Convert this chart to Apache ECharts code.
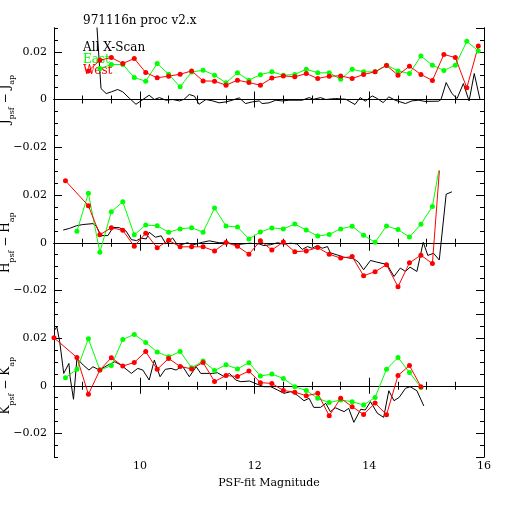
<!DOCTYPE html>
<html>
<head>
<meta charset="utf-8">
<script src="https://cdn.jsdelivr.net/npm/echarts@6/dist/echarts.min.js"></script>
<style>
html, body { margin:0; padding:0; background:#fff; }
#chart { width:512px; height:512px; }
</style>
</head>
<body>
<div id="chart"></div>
<script type="text/javascript">
// ---- data (magnitude, residual) ----
var titleText = '971116n proc v2.x';
var legendNames = ['All X-Scan', 'East', 'West'];
var xTickLabels = [10, 12, 14, 16];

// J panel
var jMag  = [9.1,9.3,9.5,9.7,9.9,10.1,10.3,10.5,10.7,10.9,11.1,11.3,11.5,11.7,11.9,12.1,12.3,12.5,12.7,12.9,13.1,13.3,13.5,13.7,13.9,14.1,14.3,14.5,14.7,14.9,15.1,15.3,15.5,15.7,15.9];
var jEast = [null,0.0130,0.0147,0.0147,0.0092,0.0077,0.0151,0.0106,0.0053,0.0115,0.0123,0.0102,0.0070,0.0112,0.0081,0.0104,0.0116,0.0102,0.0105,0.0127,0.0112,0.0112,0.0085,0.0127,0.0116,0.0116,0.0144,0.0120,0.0109,0.0182,0.0144,0.0122,0.0144,0.0244,0.0204];
var jWest = [0.0120,0.0165,0.0176,0.0151,0.0172,0.0113,0.0091,0.0098,0.0106,0.0120,0.0078,0.0077,0.0060,0.0081,0.0071,0.0060,0.0090,0.0099,0.0095,0.0109,0.0088,0.0098,0.0099,0.0088,0.0105,0.0116,0.0143,0.0102,0.0140,0.0105,0.0080,0.0189,0.0176,0.0049,0.0224];
var jAllMag = [9.22,9.32,9.41,9.50,9.61,9.70,9.82,9.93,10.05,10.16,10.25,10.34,10.45,10.57,10.69,10.77,10.86,10.95,11.03,11.15,11.27,11.38,11.50,11.61,11.73,11.84,11.96,12.08,12.13,12.25,12.37,12.48,12.60,12.83,12.95,13.03,13.15,13.24,13.41,13.59,13.75,13.84,13.93,14.05,14.14,14.24,14.34,14.45,14.63,14.74,14.86,14.97,15.21,15.25,15.34,15.44,15.53,15.64,15.74,15.83,15.93];
var jAll    = [0.041,0.0046,0.0025,0.0032,0.0042,0.0032,0.0004,-0.0020,0.0000,0.0018,0.0000,0.0008,-0.0003,0.0000,-0.0006,0.0001,0.0021,0.0014,-0.0020,0.0000,-0.0006,-0.0014,-0.0010,-0.0003,0.0007,-0.0017,-0.0010,-0.0006,-0.0017,-0.0014,-0.0003,-0.0006,-0.0003,-0.0003,0.0008,0.0001,0.0008,0.0000,0.0004,0.0001,-0.0021,0.0008,-0.0007,0.0015,0.0004,-0.0013,0.0011,-0.0003,-0.0017,-0.0006,-0.0003,-0.0008,-0.0007,0.0000,0.0071,0.0025,0.0004,0.0067,-0.0006,0.0109,0.0000];

// H panel
var hMag  = [8.7,8.9,9.1,9.3,9.5,9.7,9.9,10.1,10.3,10.5,10.7,10.9,11.1,11.3,11.5,11.7,11.9,12.1,12.3,12.5,12.7,12.9,13.1,13.3,13.5,13.7,13.9,14.1,14.3,14.5,14.7,14.9,15.1,15.3];
var hEast = [null,0.0048,0.0207,-0.0040,0.0130,0.0171,0.0033,0.0074,0.0071,0.0044,0.0058,0.0063,0.0044,0.0145,0.0070,0.0066,0.0016,0.0045,0.0062,0.0058,0.0078,0.0053,0.0028,0.0035,0.0058,0.0069,0.0031,0.0002,0.0070,0.0055,0.0024,0.0077,0.0152,0.042];
var hWest = [0.0259,null,0.0155,0.0033,0.0063,0.0052,-0.0015,0.0040,-0.0021,0.0010,-0.0017,-0.0017,-0.0017,-0.0034,0.0001,-0.0015,-0.0048,0.0008,-0.0030,0.0003,-0.0038,-0.0034,-0.0020,-0.0048,-0.0064,-0.0058,-0.0138,-0.0121,-0.0092,-0.0184,-0.0084,-0.0052,-0.0087,0.055];
var hAllMag = [8.66,8.77,8.89,9.00,9.18,9.24,9.32,9.44,9.53,9.64,9.76,9.85,9.94,10.02,10.11,10.16,10.27,10.37,10.45,10.57,10.66,10.83,10.92,11.09,11.21,11.38,11.53,11.68,11.91,12.08,12.16,12.28,12.40,12.51,12.63,12.74,12.83,12.92,13.00,13.09,13.18,13.27,13.32,13.44,13.55,13.73,13.81,13.90,14.02,14.13,14.31,14.43,14.54,14.63,14.71,14.83,14.94,15.02,15.12,15.22,15.34,15.44];
var hAll    = [0.0053,0.0060,0.0071,0.0076,0.0080,0.0069,0.0030,0.0030,0.0064,0.0063,0.0048,0.0013,0.0009,0.0019,0.0016,0.0044,0.0023,0.0029,-0.0005,0.0020,-0.0012,0.0000,-0.0009,0.0002,0.0008,0.0000,0.0000,-0.0008,-0.0002,-0.0005,-0.0012,-0.0008,0.0000,-0.0006,-0.0002,-0.0005,-0.0028,-0.0016,-0.0023,-0.0012,-0.0023,-0.0016,-0.0042,-0.0051,-0.0060,-0.0067,-0.0081,-0.0113,-0.0074,-0.0081,-0.0091,-0.0141,-0.0106,-0.0120,-0.0102,-0.0120,0.0002,-0.0053,-0.0044,-0.0072,0.0203,0.0213];

// K panel
var kMag  = [8.5,8.7,8.9,9.1,9.3,9.5,9.7,9.9,10.1,10.3,10.5,10.7,10.9,11.1,11.3,11.5,11.7,11.9,12.1,12.3,12.5,12.7,12.9,13.1,13.3,13.5,13.7,13.9,14.1,14.3,14.5,14.7,14.9];
var kEast = [null,0.0034,0.0069,0.0198,0.0066,0.0085,0.0195,0.0216,0.0182,0.0142,0.0122,0.0144,0.0076,0.0104,0.0064,0.0088,0.0071,0.0097,0.0041,0.0049,0.0031,-0.0004,-0.0020,-0.0053,-0.0071,-0.0060,-0.0067,-0.0081,-0.0049,0.0070,0.0119,0.0056,-0.0007];
var kWest = [0.0202,null,0.0119,-0.0036,0.0066,0.0118,0.0083,0.0098,0.0144,0.0069,0.0115,0.0081,0.0071,0.0098,0.0018,0.0043,0.0039,0.0062,0.0013,0.0010,-0.0020,-0.0027,-0.0042,-0.0032,-0.0126,-0.0053,-0.0088,-0.0121,-0.0073,-0.0122,0.0043,0.0085,-0.0004];
var kAllMag = [8.51,8.55,8.60,8.67,8.76,8.78,8.84,8.90,9.01,9.11,9.18,9.29,9.44,9.56,9.67,9.85,9.96,10.05,10.16,10.25,10.35,10.44,10.54,10.63,10.74,10.86,10.98,11.06,11.27,11.35,11.47,11.56,11.67,11.76,11.91,12.08,12.16,12.28,12.40,12.51,12.63,12.74,12.86,12.95,13.03,13.15,13.24,13.32,13.41,13.56,13.64,13.73,13.85,13.93,14.02,14.14,14.25,14.34,14.43,14.52,14.63,14.71,14.83,14.95];
var kAll    = [0.0234,0.0248,0.0185,0.0052,0.0094,0.0038,-0.0057,0.0115,0.0087,0.0066,0.0080,0.0066,0.0087,0.0101,0.0087,0.0052,0.0073,0.0066,0.0024,0.0108,0.0038,0.0069,0.0073,0.0066,0.0083,0.0038,0.0080,0.0052,0.0052,0.0055,0.0038,0.0052,0.0024,0.0017,0.0020,0.0003,-0.0004,-0.0004,-0.0018,-0.0032,-0.0025,-0.0039,-0.0063,-0.0053,-0.0091,-0.0091,-0.0074,-0.0109,-0.0093,-0.0109,-0.0095,-0.0154,-0.0099,-0.0102,-0.0067,-0.0116,-0.0133,-0.0021,-0.0063,-0.0049,-0.0011,-0.0004,-0.0021,-0.0085];

var bands = ['J', 'H', 'K'];

// ---- chart ----
var myChart = echarts.init(document.getElementById('chart'));
var FONT = 'DejaVu Serif';

function zip(xs, ys) {
    var out = [];
    for (var i = 0; i < xs.length; i++) out.push([xs[i], ys[i]]);
    return out;
}

var panels = [
    {top: 28,    height: 143, mag: jMag, east: jEast, west: jWest, allMag: jAllMag, all: jAll},
    {top: 171,   height: 143.5, mag: hMag, east: hEast, west: hWest, allMag: hAllMag, all: hAll},
    {top: 314.5, height: 142.5, mag: kMag, east: kEast, west: kWest, allMag: kAllMag, all: kAll}
];

var grids = [], xAxes = [], yAxes = [], series = [];
var axisLine = {show: true, lineStyle: {color: '#000', width: 1}};

panels.forEach(function(p, i){
    grids.push({left: 54, right: 28, top: p.top, height: p.height, containLabel: false, outerBoundsMode: 'none'});
    var last = (i === panels.length - 1);

    // major x, bottom (the one series use)
    xAxes.push({
        type: 'value', gridIndex: i, position: 'bottom', min: 8.5, max: 16,
        minInterval: 2, maxInterval: 2,
        axisLine: axisLine, splitLine: {show: false},
        axisTick: {inside: true, length: 8, lineStyle: {color: '#000'}},
        axisLabel: {show: last, showMinLabel: false, color: '#000', fontFamily: FONT, fontSize: 11, margin: 4,
            formatter: function(v){ return xTickLabels.indexOf(Math.round(v)) >= 0 ? String(Math.round(v)) : ''; }},
        name: last ? 'PSF-fit Magnitude' : '', nameLocation: 'middle', nameGap: 21, nameMoveOverlap: false,
        nameTextStyle: {color: '#000', fontFamily: FONT, fontSize: 11}
    });
    // minor x, bottom
    xAxes.push({type: 'value', gridIndex: i, position: 'bottom', min: 8.5, max: 16, interval: 0.5,
        axisLine: axisLine, splitLine: {show: false}, axisLabel: {show: false},
        axisTick: {inside: true, length: 4, lineStyle: {color: '#000'}}});
    // major / minor x, top
    xAxes.push({type: 'value', gridIndex: i, position: 'top', min: 8.5, max: 16,
        minInterval: 2, maxInterval: 2,
        axisLine: axisLine, splitLine: {show: false}, axisLabel: {show: false},
        axisTick: {inside: true, length: 8, lineStyle: {color: '#000'}}});
    xAxes.push({type: 'value', gridIndex: i, position: 'top', min: 8.5, max: 16, interval: 0.5,
        axisLine: axisLine, splitLine: {show: false}, axisLabel: {show: false},
        axisTick: {inside: true, length: 4, lineStyle: {color: '#000'}}});

    var b = bands[i];
    yAxes.push({
        type: 'value', gridIndex: i, position: 'left', min: -0.03, max: 0.03,
        minInterval: 0.02, maxInterval: 0.02,
        axisLine: axisLine, splitLine: {show: false},
        axisTick: {inside: true, length: 8, lineStyle: {color: '#000'}},
        axisLabel: {showMinLabel: false, showMaxLabel: false, color: '#000', fontFamily: FONT, fontSize: 11, margin: 7,
            formatter: function(v){ var s = String(+v.toFixed(3)); return s.replace('-', '\u2212'); }},
        name: '{a|' + b + '}{s|psf}{a| \u2212 ' + b + '}{s|ap}',
        nameLocation: 'middle', nameRotate: 90, nameGap: 38, nameMoveOverlap: false,
        nameTextStyle: {
            color: '#000',
            rich: {
                a: {fontFamily: FONT, fontSize: 12, color: '#000', verticalAlign: 'top', lineHeight: 16},
                s: {fontFamily: FONT, fontSize: 8, color: '#000', verticalAlign: 'bottom', lineHeight: 16}
            }
        }
    });
    yAxes.push({type: 'value', gridIndex: i, position: 'left', min: -0.03, max: 0.03, interval: 0.005,
        axisLine: axisLine, splitLine: {show: false}, axisLabel: {show: false},
        axisTick: {inside: true, length: 4, lineStyle: {color: '#000'}}});
    yAxes.push({type: 'value', gridIndex: i, position: 'right', min: -0.03, max: 0.03,
        minInterval: 0.02, maxInterval: 0.02,
        axisLine: axisLine, splitLine: {show: false}, axisLabel: {show: false},
        axisTick: {inside: true, length: 8, lineStyle: {color: '#000'}}});
    yAxes.push({type: 'value', gridIndex: i, position: 'right', min: -0.03, max: 0.03, interval: 0.005,
        axisLine: axisLine, splitLine: {show: false}, axisLabel: {show: false},
        axisTick: {inside: true, length: 4, lineStyle: {color: '#000'}}});

    var xi = i * 4, yi = i * 4;
    series.push({
        name: legendNames[0], type: 'line', xAxisIndex: xi, yAxisIndex: yi,
        data: zip(p.allMag, p.all), showSymbol: false, symbol: 'none',
        lineStyle: {color: '#000', width: 1}, animation: false
    });
    series.push({
        name: legendNames[1], type: 'line', xAxisIndex: xi, yAxisIndex: yi,
        data: zip(p.mag, p.east), connectNulls: true,
        symbol: 'circle', symbolSize: 5,
        itemStyle: {color: '#00ff00'},
        lineStyle: {color: '#00ff00', width: 1}, animation: false
    });
    series.push({
        name: legendNames[2], type: 'line', xAxisIndex: xi, yAxisIndex: yi,
        data: zip(p.mag, p.west), connectNulls: true,
        symbol: 'circle', symbolSize: 5,
        itemStyle: {color: '#ff0000'},
        lineStyle: {color: '#ff0000', width: 1}, animation: false
    });
});

var option = {
    backgroundColor: '#fff',
    animation: false,
    grid: grids,
    xAxis: xAxes,
    yAxis: yAxes,
    series: series,
    graphic: [
        {type: 'text', left: 83, top: 15, style: {text: titleText, fill: '#000', font: '12px "DejaVu Serif"'}},
        {type: 'text', left: 83, top: 42, style: {text: legendNames[0], fill: '#000', font: '12px "DejaVu Serif"'}},
        {type: 'text', left: 83, top: 54, style: {text: legendNames[1], fill: '#00ff00', font: '12px "DejaVu Serif"'}},
        {type: 'text', left: 83, top: 65, style: {text: legendNames[2], fill: '#ff0000', font: '12px "DejaVu Serif"'}}
    ]
};
myChart.setOption(option);
</script>
</body>
</html>
